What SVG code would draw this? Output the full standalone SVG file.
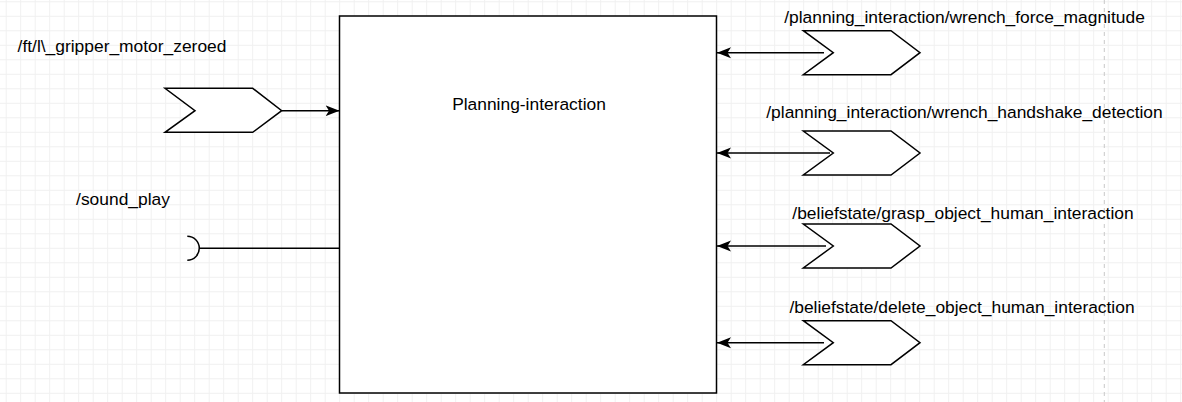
<svg xmlns="http://www.w3.org/2000/svg" width="1182" height="402" viewBox="0 0 1182 402">
  <defs>
    <pattern id="grid" patternUnits="userSpaceOnUse" x="5.7" y="1.3" width="14.5" height="14.5">
      <path d="M0,0.5 H14.5 M0.5,0 V14.5" fill="none" stroke="#f0f0f0" stroke-width="1"/>
    </pattern>
    <marker id="arrow" markerUnits="userSpaceOnUse" viewBox="0 0 14 12" refX="14" refY="6" markerWidth="14" markerHeight="12" orient="auto">
      <path d="M0,0.5 L14,6 L0,11.5 L3.5,6 Z" fill="#000" stroke="none"/>
    </marker>
  </defs>
  <style>
    .shape { fill: #fff; stroke: #000; stroke-width: 1.5; }
    .edge { fill: none; stroke: #000; stroke-width: 1.5; }
    .label { font-family: "Liberation Sans", Arial, sans-serif; font-size: 17.4px; fill: #000; }
  </style>
  <rect width="1182" height="402" fill="#fff"/>
  <rect width="1182" height="402" fill="url(#grid)"/>
  <line x1="1104.3" y1="0" x2="1104.3" y2="402" stroke="#c8c8c8" stroke-width="1" stroke-dasharray="4,4"/>

  <g id="connectors">
    <line class="edge" x1="282" y1="110.7" x2="339.5" y2="110.7" marker-end="url(#arrow)"/>
    <line class="edge" x1="199.3" y1="248.3" x2="339.5" y2="248.3"/>
    <path class="edge" d="M187.3,236.3 A12,12 0 0 1 187.3,260.3"/>
    <line class="edge" x1="824" y1="52.7" x2="717" y2="52.7" marker-end="url(#arrow)"/>
    <line class="edge" x1="830" y1="153" x2="717" y2="153" marker-end="url(#arrow)"/>
    <line class="edge" x1="826" y1="246" x2="717" y2="246" marker-end="url(#arrow)"/>
    <line class="edge" x1="824" y1="342.7" x2="717" y2="342.7" marker-end="url(#arrow)"/>
  </g>

  <g id="planning-interaction">
    <rect class="shape" x="339.5" y="16" width="377" height="377"/>
    <text class="label" x="529" y="110" text-anchor="middle">Planning-interaction</text>
  </g>

  <g id="gripper-motor-zeroed">
    <polygon class="shape" points="165,88.3 252.7,88.3 281.7,110.7 252.7,132.3 165,132.3 195,110.7"/>
    <text class="label" x="122" y="52.3" text-anchor="middle">/ft/l\_gripper_motor_zeroed</text>
  </g>

  <g id="sound-play">
    <text class="label" x="123" y="205" text-anchor="middle">/sound_play</text>
  </g>

  <g id="wrench-force-magnitude">
    <polygon class="shape" points="803.3,30.7 891,30.7 920,52.7 891,74.7 803.3,74.7 833.3,52.7"/>
    <text class="label" x="964.5" y="23" text-anchor="middle">/planning_interaction/wrench_force_magnitude</text>
  </g>

  <g id="wrench-handshake-detection">
    <polygon class="shape" points="803.3,131 891,131 920,153 891,175 803.3,175 833.3,153"/>
    <text class="label" x="964.5" y="118" text-anchor="middle">/planning_interaction/wrench_handshake_detection</text>
  </g>

  <g id="grasp-object-human-interaction">
    <polygon class="shape" points="803.3,224 891,224 920,246 891,268 803.3,268 833.3,246"/>
    <text class="label" x="963" y="219" text-anchor="middle">/beliefstate/grasp_object_human_interaction</text>
  </g>

  <g id="delete-object-human-interaction">
    <polygon class="shape" points="803.3,320.7 891,320.7 920,342.7 891,364.7 803.3,364.7 833.3,342.7"/>
    <text class="label" x="962" y="313" text-anchor="middle">/beliefstate/delete_object_human_interaction</text>
  </g>
</svg>
